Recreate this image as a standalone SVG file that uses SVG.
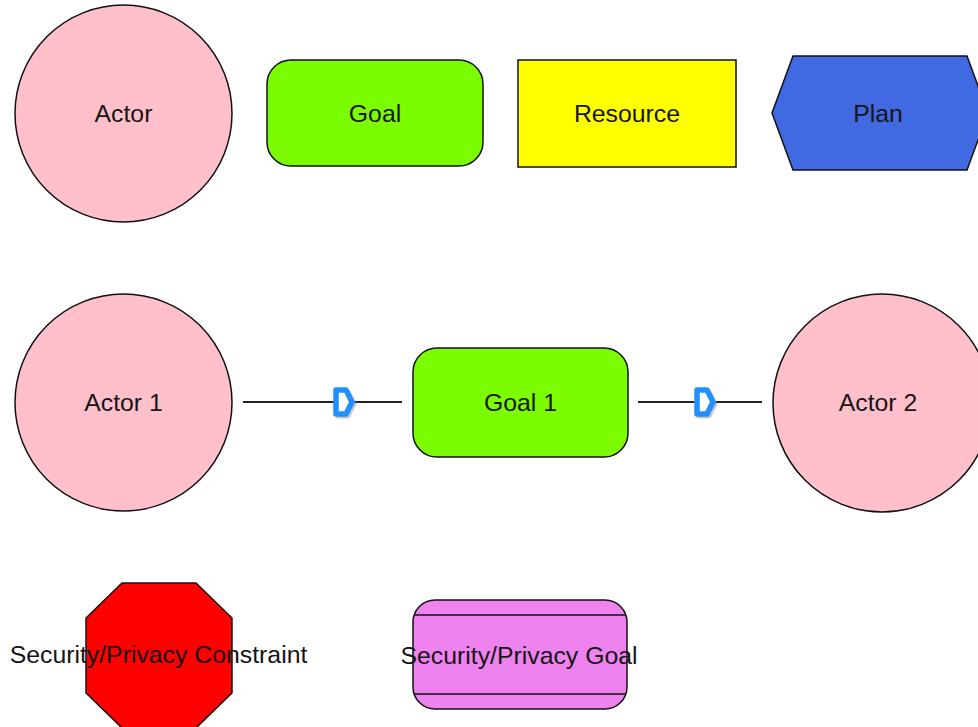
<svg xmlns="http://www.w3.org/2000/svg" width="978" height="727" viewBox="0 0 978 727">
  <defs>
    <style>
      .actor { fill: #ffc0cb; stroke: #111; stroke-width: 1.5; }
      .goal { fill: #7cfc00; stroke: #111; stroke-width: 1.5; }
      .res { fill: #ffff00; stroke: #111; stroke-width: 1.5; }
      .plan { fill: #4169e1; stroke: #111; stroke-width: 1.5; }
      .sc { fill: #ff0000; stroke: #111; stroke-width: 1.5; }
      .sg { fill: #ee82ee; stroke: #111; stroke-width: 1.5; }
      .lbl { font-family: "Liberation Sans", Arial, sans-serif; font-size: 24.8px; fill: #151515; text-anchor: middle; }
      .conn { stroke: #222; stroke-width: 2; fill: none; }
      .dshadow { fill: none; stroke: #9a9a9a; stroke-width: 5; stroke-linejoin: round; opacity: 0.55; }
      .dmark { fill: #ffffff; stroke: #1e90ff; stroke-width: 5.5; stroke-linejoin: round; }
    </style>
    <g id="dsym">
      <path class="dshadow" d="M3,3 H13 L19,15 L13,27 H3 Z" transform="translate(2,2)"/>
      <path class="dmark" d="M3,3 H13 L19,15 L13,27 H3 Z"/>
    </g>
  </defs>

  <g id="connectors">
    <line class="conn" x1="243" y1="402" x2="402" y2="402"/>
    <use href="#dsym" x="333" y="387"/>
    <line class="conn" x1="638" y1="402" x2="762" y2="402"/>
    <use href="#dsym" x="694" y="387"/>
  </g>

  <g id="actor">
    <circle class="actor" cx="123.5" cy="113.5" r="108.5"/>
    <text class="lbl" x="123.5" y="122">Actor</text>
  </g>
  <g id="goal">
    <rect class="goal" x="267" y="60" width="216" height="106" rx="24" ry="24"/>
    <text class="lbl" x="375" y="121.5">Goal</text>
  </g>
  <g id="resource">
    <rect class="res" x="518" y="60" width="218" height="107"/>
    <text class="lbl" x="627" y="122">Resource</text>
  </g>
  <g id="plan">
    <polygon class="plan" points="772,113 793,56 967,56 988,113 967,170 793,170"/>
    <text class="lbl" x="878" y="122">Plan</text>
  </g>

  <g id="actor1">
    <circle class="actor" cx="123.5" cy="402.5" r="108.5"/>
    <text class="lbl" x="123.5" y="411">Actor 1</text>
  </g>
  <g id="goal1">
    <rect class="goal" x="413" y="348" width="215" height="109" rx="24" ry="24"/>
    <text class="lbl" x="520.5" y="410.5">Goal 1</text>
  </g>
  <g id="actor2">
    <circle class="actor" cx="882" cy="403" r="109"/>
    <text class="lbl" x="878" y="411">Actor 2</text>
  </g>

  <g id="sp-constraint">
    <polygon class="sc" points="122,583 196,583 232,618 232,693 196,728 122,728 86,693 86,618"/>
    <text class="lbl" x="158.5" y="663">Security/Privacy Constraint</text>
  </g>
  <g id="sp-goal">
    <rect class="sg" x="413" y="600" width="214" height="109" rx="22" ry="22"/>
    <line x1="414" y1="615" x2="626" y2="615" stroke="#111" stroke-width="1.5"/>
    <line x1="414" y1="694" x2="626" y2="694" stroke="#111" stroke-width="1.5"/>
    <text class="lbl" x="519" y="664">Security/Privacy Goal</text>
  </g>
</svg>
